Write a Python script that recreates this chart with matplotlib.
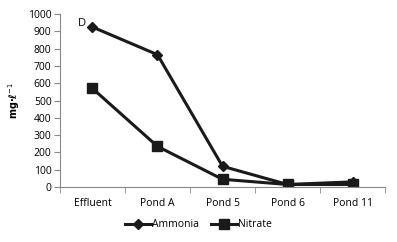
import numpy as np
import matplotlib.pyplot as plt

sites = ["Effluent", "Pond A", "Pond 5", "Pond 6", "Pond 11"]
ammonia = [925, 765, 120, 15, 30]
nitrate = [570, 235, 45, 15, 15]

plt.rcParams['font.family'] = ['Open Sans', 'DejaVu Sans']

fig = plt.figure(figsize=(3.97, 2.42), dpi=100)
ax = fig.add_axes([0.151, 0.227, 0.819, 0.715])

x = np.arange(len(sites))
ax.plot(x, ammonia, color="#1a1a1a", lw=2.2, marker="D", ms=5, label="Ammonia")
ax.plot(x, nitrate, color="#1a1a1a", lw=2.2, marker="s", ms=7, label="Nitrate")

ax.set_xlim(-0.5, len(sites) - 0.5)
ax.set_ylim(0, 1000)
ax.set_yticks(np.arange(0, 1001, 100))
ax.set_xticks(x)
ax.set_xticklabels(sites)
ax.set_xticks(np.arange(-0.5, len(sites), 1), minor=True)
ax.tick_params(axis="x", which="major", length=0, pad=8, labelsize=7.5)
ax.tick_params(axis="x", which="minor", length=4, color="#888888")
ax.tick_params(axis="y", length=4, color="#888888", labelsize=7.5, pad=2)

for s in ["top", "right"]:
    ax.spines[s].set_visible(False)
for s in ["left", "bottom"]:
    ax.spines[s].set_color("#888888")
    ax.spines[s].set_linewidth(0.8)

ax.set_ylabel("mg·ℓ$^{-1}$", fontsize=7, fontweight="bold", family="DejaVu Sans", labelpad=4)
ax.text(0.055, 0.975, "D", transform=ax.transAxes, fontsize=8, va="top")

fig.legend(loc="lower center", bbox_to_anchor=(0.5, 0.01), ncol=2, frameon=False,
           fontsize=7.5, handlelength=2.5, columnspacing=1.2, handletextpad=0.1)

fig.savefig("out.png", dpi=100)
